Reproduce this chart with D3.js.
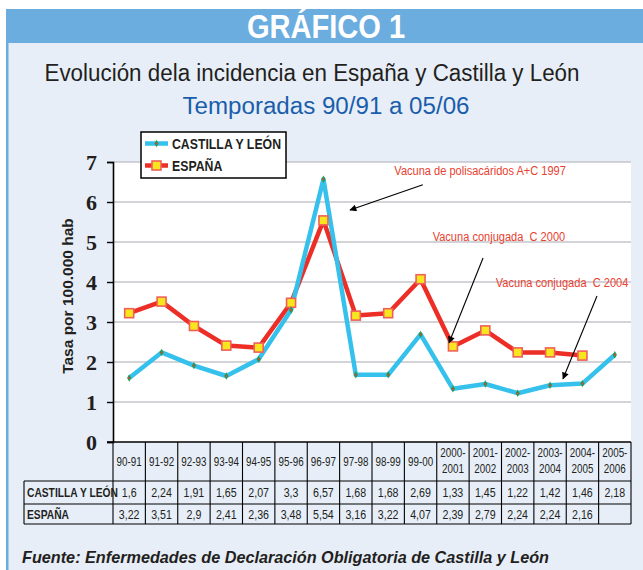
<!DOCTYPE html>
<html>
<head>
<meta charset="utf-8">
<script src="https://cdn.jsdelivr.net/npm/d3@7"></script>
<style>
  html, body { margin: 0; padding: 0; background: #ffffff; }
  svg { display: block; }
</style>
</head>
<body>
<div id="chart"></div>
<script>
// ---- data ----
const categories = ["90-91","91-92","92-93","93-94","94-95","95-96","96-97","97-98","98-99","99-00",
  "2000-2001","2001-2002","2002-2003","2003-2004","2004-2005","2005-2006"];
const castillaLeon = [1.6, 2.24, 1.91, 1.65, 2.07, 3.3, 6.57, 1.68, 1.68, 2.69, 1.33, 1.45, 1.22, 1.42, 1.46, 2.18];
const espana = [3.22, 3.51, 2.9, 2.41, 2.36, 3.48, 5.54, 3.16, 3.22, 4.07, 2.39, 2.79, 2.24, 2.24, 2.16, null];
const yTicks = [0, 1, 2, 3, 4, 5, 6, 7];
const seriesNames = ["CASTILLA Y LEÓN", "ESPAÑA"];
const titleText = "GRÁFICO 1";
const subtitleText = "Evolución dela incidencia en España y Castilla y León";
const subtitle2Text = "Temporadas 90/91 a 05/06";
const yTitle = "Tasa por 100.000 hab";
const sourceText = "Fuente: Enfermedades de Declaración Obligatoria de Castilla y León";
// annotations: position in category-index units (fractional) and value units
const annotations = [
  { text: "Vacuna de polisacáridos A+C 1997", tx: 10.84, ty: 6.78, x1: 9.07, y1: 6.43, x2: 6.82, y2: 5.80 },
  { text: "Vacuna conjugada  C 2000", tx: 11.42, ty: 5.15, x1: 10.93, y1: 4.60, x2: 9.88, y2: 2.48 },
  { text: "Vacuna conjugada  C 2004", tx: 13.37, ty: 3.98, x1: 14.45, y1: 3.65, x2: 13.40, y2: 1.58 }
];

// ---- layout ----
const W = 643, H = 570;
const plot = { left: 113, right: 631, top: 162, bottom: 442 };
const SANS = '"Liberation Sans", Arial, sans-serif';
const SQ = 0.82; // horizontal squeeze to mimic a condensed face
const colCyl = "#35c1ec", colEsp = "#ec2e26";

const svg = d3.select("#chart").append("svg").attr("width", W).attr("height", H);

// condensed text helper
function ntext(g, x0, y0, str, size, opts = {}) {
  return g.append("text")
    .attr("transform", `translate(${x0},${y0}) scale(${opts.sq || SQ},1)`)
    .attr("x", 0).attr("y", 0)
    .attr("text-anchor", opts.anchor || "start")
    .attr("font-family", SANS)
    .attr("font-weight", opts.bold ? "bold" : "normal")
    .attr("font-style", opts.italic ? "italic" : "normal")
    .attr("font-size", size)
    .attr("fill", opts.fill || "#231f20")
    .text(str);
}

// frame
svg.append("rect").attr("x", 6).attr("y", 9).attr("width", W - 6).attr("height", H - 9).attr("fill", "#e7eef8");
svg.append("rect").attr("x", 6).attr("y", 9).attr("width", W - 6).attr("height", 34).attr("fill", "#6cade0");
svg.append("rect").attr("x", 6).attr("y", 9).attr("width", 2.5).attr("height", H - 9).attr("fill", "#6cade0");

ntext(svg, 326, 37.5, titleText, 33, { anchor: "middle", bold: true, fill: "#ffffff", sq: 0.88 });
svg.append("text").attr("x", 312).attr("y", 81).attr("text-anchor", "middle")
  .attr("font-family", SANS).attr("font-size", 23).attr("fill", "#231f20")
  .attr("textLength", 535).attr("lengthAdjust", "spacingAndGlyphs")
  .text(subtitleText);
svg.append("text").attr("x", 326).attr("y", 114).attr("text-anchor", "middle")
  .attr("font-family", SANS).attr("font-size", 23).attr("fill", "#1a5eab")
  .attr("textLength", 287).attr("lengthAdjust", "spacingAndGlyphs")
  .text(subtitle2Text);

// scales
const x = d3.scaleBand().domain(categories).range([plot.left, plot.right]).padding(0);
const y = d3.scaleLinear().domain([0, 7]).range([plot.bottom, plot.top]);
const xi = i => plot.left + (i + 0.5) * x.bandwidth();

// plot background
svg.append("rect").attr("x", plot.left).attr("y", plot.top)
  .attr("width", plot.right - plot.left).attr("height", plot.bottom - plot.top).attr("fill", "#ffffff");

// gridlines
svg.append("g").selectAll("line").data(yTicks.filter(d => d > 0)).join("line")
  .attr("x1", plot.left).attr("x2", plot.right)
  .attr("y1", d => y(d)).attr("y2", d => y(d))
  .attr("stroke", "#c5c5cb").attr("stroke-width", 1.6);

// y axis
const yAxis = d3.axisLeft(y).tickValues(yTicks).tickSize(6).tickPadding(10).tickFormat(d3.format("d"));
const gy = svg.append("g").attr("transform", `translate(${plot.left},0)`).call(yAxis);
gy.select(".domain").attr("stroke", "#000").attr("stroke-width", 1.6);
gy.selectAll(".tick line").attr("stroke", "#000").attr("stroke-width", 1.4);
gy.selectAll(".tick text").attr("font-family", '"Liberation Serif", "Times New Roman", serif')
  .attr("font-weight", "bold").attr("font-size", 22).attr("fill", "#231f20").attr("dy", "0.34em");

svg.append("text").attr("transform", `translate(73,296) rotate(-90)`)
  .attr("text-anchor", "middle").attr("font-family", SANS)
  .attr("font-weight", "bold").attr("font-size", 15.5).attr("fill", "#231f20").text(yTitle);

// lines
const lineGen = d3.line().defined(d => d != null).x((d, i) => xi(i)).y(d => y(d));
svg.append("path").datum(espana).attr("d", lineGen).attr("fill", "none")
  .attr("stroke", colEsp).attr("stroke-width", 4.5).attr("stroke-linejoin", "round");
svg.append("path").datum(castillaLeon).attr("d", lineGen).attr("fill", "none")
  .attr("stroke", colCyl).attr("stroke-width", 4.5).attr("stroke-linejoin", "round");

function cylMarker(g, cx, cy) {
  g.append("path").attr("d", d3.symbol(d3.symbolDiamond, 16)()).attr("transform", `translate(${cx},${cy})`)
    .attr("fill", "#2f9a55");
  g.append("circle").attr("cx", cx).attr("cy", cy).attr("r", 1).attr("fill", "#d9432f");
}
function espMarker(g, cx, cy) {
  g.append("rect").attr("x", cx - 4.5).attr("y", cy - 4.5).attr("width", 9).attr("height", 9)
    .attr("fill", "#f8e51d").attr("stroke", "#f0605a").attr("stroke-width", 1.6);
}
const gm = svg.append("g");
espana.forEach((v, i) => { if (v != null) espMarker(gm, xi(i), y(v)); });
castillaLeon.forEach((v, i) => cylMarker(gm, xi(i), y(v)));

// x axis line
svg.append("line").attr("x1", plot.left - 6).attr("x2", plot.right).attr("y1", plot.bottom).attr("y2", plot.bottom)
  .attr("stroke", "#000").attr("stroke-width", 1.6);

// data table
const rowTop = [plot.bottom, 481, 504, 524];
const tLeft = 24;
const gt = svg.append("g").attr("stroke", "#000").attr("stroke-width", 1.1);
categories.forEach(c => {
  gt.append("line").attr("x1", x(c)).attr("x2", x(c)).attr("y1", rowTop[0]).attr("y2", rowTop[3]);
});
gt.append("line").attr("x1", plot.right).attr("x2", plot.right).attr("y1", rowTop[0]).attr("y2", rowTop[3]);
gt.append("line").attr("x1", tLeft).attr("x2", tLeft).attr("y1", rowTop[1]).attr("y2", rowTop[3]);
[1, 2, 3].forEach(k => {
  gt.append("line").attr("x1", tLeft).attr("x2", plot.right).attr("y1", rowTop[k]).attr("y2", rowTop[k]);
});

// header labels
const gh = svg.append("g");
categories.forEach(c => {
  const cx = x(c) + x.bandwidth() / 2;
  if (c.length > 5) {
    const parts = c.split("-");
    ntext(gh, cx, 457, parts[0] + "-", 12, { anchor: "middle" });
    ntext(gh, cx, 473, parts[1], 12, { anchor: "middle" });
  } else {
    ntext(gh, cx, 466, c, 12, { anchor: "middle" });
  }
});
// row labels + values
const fmt = v => v == null ? "" : String(v).replace(".", ",");
const rows = [castillaLeon, espana];
rows.forEach((vals, r) => {
  const yc = (rowTop[r + 1] + rowTop[r + 2]) / 2 + 4.5;
  ntext(svg, tLeft + 3, yc, seriesNames[r], 12.5, { bold: true });
  const g = svg.append("g");
  vals.forEach((v, i) => {
    ntext(g, x(categories[i]) + x.bandwidth() / 2, yc, fmt(v), 13, { anchor: "middle" });
  });
});

// legend
const lg = svg.append("g");
lg.append("rect").attr("x", 141).attr("y", 132).attr("width", 145).attr("height", 46)
  .attr("fill", "#ffffff").attr("stroke", "#000").attr("stroke-width", 1.5);
const legendY = [143.5, 165.5];
lg.append("line").attr("x1", 145).attr("x2", 168).attr("y1", legendY[0]).attr("y2", legendY[0])
  .attr("stroke", colCyl).attr("stroke-width", 4.5);
cylMarker(lg, 156.5, legendY[0]);
lg.append("line").attr("x1", 145).attr("x2", 168).attr("y1", legendY[1]).attr("y2", legendY[1])
  .attr("stroke", colEsp).attr("stroke-width", 4.5);
espMarker(lg, 156.5, legendY[1]);
seriesNames.forEach((n, k) => {
  ntext(lg, 172, legendY[k] + 5.5, n, 15, { bold: true });
});

// annotations
const defs = svg.append("defs");
defs.append("marker").attr("id", "ah").attr("viewBox", "0 0 10 10").attr("refX", 9).attr("refY", 5)
  .attr("markerWidth", 9).attr("markerHeight", 7).attr("markerUnits", "userSpaceOnUse").attr("orient", "auto")
  .append("path").attr("d", "M0,0 L10,5 L0,10 Z").attr("fill", "#000");
const xf = v => plot.left + (v + 0.5) * x.bandwidth();
annotations.forEach(a => {
  svg.append("line").attr("x1", xf(a.x1)).attr("y1", y(a.y1)).attr("x2", xf(a.x2)).attr("y2", y(a.y2))
    .attr("stroke", "#000").attr("stroke-width", 1.1).attr("marker-end", "url(#ah)");
  ntext(svg, xf(a.tx), y(a.ty) + 4.5, a.text, 13.5, { anchor: "middle", fill: "#e8412f" })
    .attr("xml:space", "preserve").style("white-space", "pre");
});

// source
svg.append("text").attr("x", 22).attr("y", 563).attr("font-family", SANS)
  .attr("font-weight", "bold").attr("font-style", "italic").attr("font-size", 17).attr("fill", "#231f20")
  .attr("textLength", 527).attr("lengthAdjust", "spacingAndGlyphs").text(sourceText);
</script>
</body>
</html>
